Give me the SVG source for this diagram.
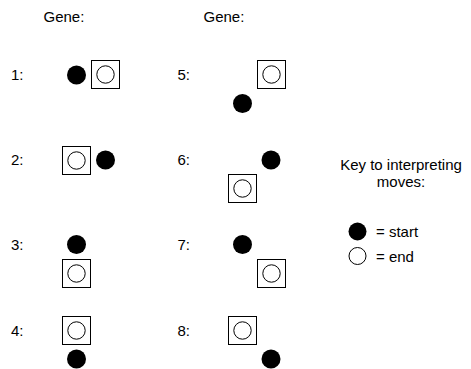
<svg xmlns="http://www.w3.org/2000/svg" width="471" height="369" viewBox="0 0 471 369">
<style>
text{font-family:"Liberation Sans",Arial,sans-serif;font-size:15px;fill:#000}
.sq{fill:#fff;stroke:#000;stroke-width:1}
.o{fill:#fff;stroke:#000;stroke-width:1}
.f{fill:#000}
</style>
<rect width="471" height="369" fill="#fff"/>
<g id="headers">
<text x="43.5" y="22">Gene:</text>
<text x="203.5" y="22">Gene:</text>
</g>
<g id="labels">
<text x="11" y="80">1:</text>
<text x="11" y="165">2:</text>
<text x="11" y="249.5">3:</text>
<text x="11" y="336">4:</text>
<text x="177.5" y="80">5:</text>
<text x="177.5" y="165">6:</text>
<text x="177.5" y="249.5">7:</text>
<text x="177.5" y="336">8:</text>
</g>
<g id="move1">
<circle class="f" cx="76.5" cy="75" r="9.5"/>
<rect class="sq" x="91.5" y="60.5" width="28" height="28"/>
<circle class="o" cx="105.5" cy="74.5" r="8.7"/>
</g>
<g id="move2">
<rect class="sq" x="62.5" y="146.5" width="28" height="28"/>
<circle class="o" cx="76.5" cy="160.5" r="8.7"/>
<circle class="f" cx="105.5" cy="160" r="9.5"/>
</g>
<g id="move3">
<circle class="f" cx="76.5" cy="244.5" r="9.5"/>
<rect class="sq" x="62.5" y="259.5" width="28" height="28"/>
<circle class="o" cx="76.5" cy="273.5" r="8.7"/>
</g>
<g id="move4">
<rect class="sq" x="62.5" y="316.5" width="28" height="28"/>
<circle class="o" cx="76.5" cy="330.5" r="8.7"/>
<circle class="f" cx="76.5" cy="359" r="9.5"/>
</g>
<g id="move5">
<rect class="sq" x="257.5" y="60.5" width="28" height="28"/>
<circle class="o" cx="271.5" cy="74.5" r="8.7"/>
<circle class="f" cx="242.5" cy="103.5" r="9.5"/>
</g>
<g id="move6">
<circle class="f" cx="271" cy="160" r="9.5"/>
<rect class="sq" x="228.5" y="174.5" width="28" height="28"/>
<circle class="o" cx="242.5" cy="188.5" r="8.7"/>
</g>
<g id="move7">
<circle class="f" cx="242.5" cy="244.5" r="9.5"/>
<rect class="sq" x="257.5" y="259.5" width="28" height="28"/>
<circle class="o" cx="271.5" cy="273.5" r="8.7"/>
</g>
<g id="move8">
<rect class="sq" x="228.5" y="316.5" width="28" height="28"/>
<circle class="o" cx="242.5" cy="330.5" r="8.7"/>
<circle class="f" cx="271" cy="359" r="9.5"/>
</g>
<g id="key">
<text x="401" y="169.5" text-anchor="middle">Key to interpreting</text>
<text x="401" y="186.5" text-anchor="middle">moves:</text>
<circle class="f" cx="357.5" cy="231.5" r="9"/>
<text x="376" y="237">= start</text>
<circle class="o" cx="357.5" cy="256" r="8.5"/>
<text x="376" y="261.5">= end</text>
</g>
</svg>
